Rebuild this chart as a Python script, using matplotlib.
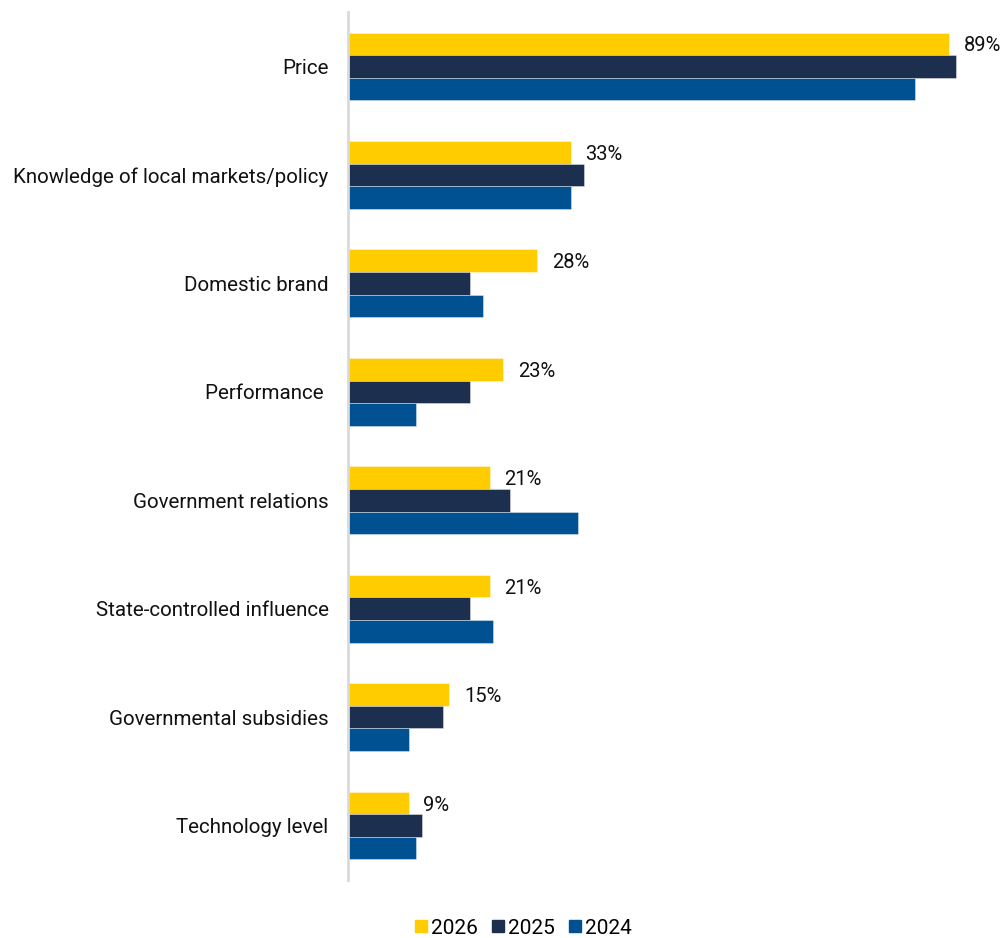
import matplotlib
matplotlib.use("Agg")
import matplotlib.pyplot as plt
import numpy as np
from matplotlib.lines import Line2D

plt.rcParams['font.family'] = ['Roboto', 'DejaVu Sans']

categories = [
    "Price",
    "Knowledge of local markets/policy",
    "Domestic brand",
    "Performance ",
    "Government relations",
    "State-controlled influence",
    "Governmental subsidies",
    "Technology level",
]
series_names = ["2026", "2025", "2024"]
values_2026 = [89, 33, 28, 23, 21, 21, 15, 9]
values_2025 = [90, 35, 18, 18, 24, 18, 14, 11]
values_2024 = [84, 33, 20, 10, 34, 21.5, 9, 10]
colors = ["#FFCC00", "#1C2F4F", "#005192"]

series = [values_2026, values_2025, values_2024]

fig = plt.figure(figsize=(10.01, 9.38), dpi=100)
ax = fig.add_axes([0.3477, 0.062, 0.6523, 0.925])

y = np.arange(len(categories))
bar_h = 0.208
offsets = [-bar_h, 0, bar_h]
for vals, off, col in zip(series, offsets, colors):
    ax.barh(y + off, vals, height=bar_h, color=col,
            edgecolor=(1, 1, 1, 0.45), linewidth=0.6)

# value labels for the most recent year
for yi, v in zip(y, values_2026):
    ax.annotate(f"{v}%", xy=(v, yi - bar_h), xytext=(10.5, 0),
                textcoords="offset points", ha="left", va="center_baseline",
                fontsize=14.5, color="#111111", annotation_clip=False)

ax.set_ylim(len(categories) - 0.5, -0.5)
ax.set_xlim(0, 96.7)
ax.set_yticks(y)
ax.set_yticklabels(categories, fontsize=14.8, color="#111111")
ax.tick_params(axis="y", length=0, pad=14)
ax.set_xticks([])
for s in ["top", "right", "bottom"]:
    ax.spines[s].set_visible(False)
ax.spines["left"].set_color("#D9D9D9")
ax.spines["left"].set_linewidth(2)

handles = [Line2D([0], [0], marker="s", linestyle="none", markersize=9,
                  markerfacecolor=c, markeredgecolor=c) for c in colors]
fig.legend(handles, series_names, loc="center", bbox_to_anchor=(0.521, 0.0105),
           ncol=3, frameon=False, fontsize=15, handletextpad=0.05,
           columnspacing=0.5, handlelength=0.9)

fig.savefig("out.png", dpi=100)
